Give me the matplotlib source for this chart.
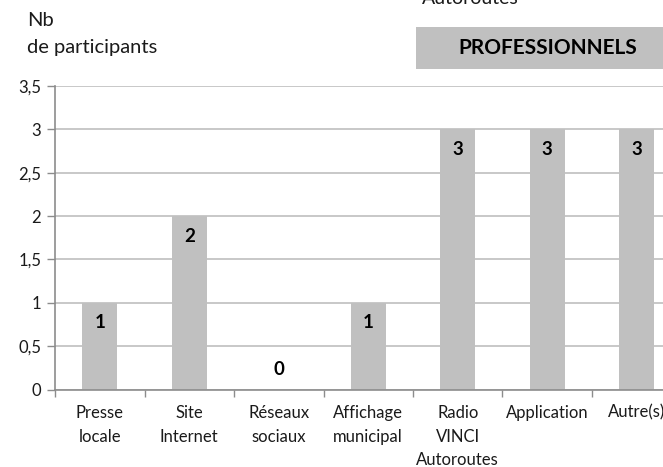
import matplotlib.pyplot as plt
from matplotlib.patches import Rectangle

# données du graphique
categories = ["Presse\nlocale", "Site\nInternet", "Réseaux\nsociaux", "Affichage\nmunicipal",
              "Radio\nVINCI\nAutoroutes", "Application", "Autre(s)"]
valeurs = [1, 2, 0, 1, 3, 3, 3]
yticks = [0, 0.5, 1, 1.5, 2, 2.5, 3, 3.5]
ytick_labels = ["0", "0,5", "1", "1,5", "2", "2,5", "3", "3,5"]

plt.rcParams["font.family"] = ["Lato", "DejaVu Sans"]

W, H = 663, 467
fig = plt.figure(figsize=(W / 100, H / 100), dpi=100)

# position de l'axe en pixels (l'axe déborde à droite, comme l'original recadré)
x0, y_bas, y_haut, pas = 55, 389.5, 86, 89.5
ax = fig.add_axes([x0 / W, (H - y_bas) / H, 7 * pas / W, (y_bas - y_haut) / H])

gris_barre = "#c0c0c0"
gris_axe = "#8c8c8c"
texte = "#1a1a1a"

x = list(range(len(categories)))
ax.bar(x, valeurs, width=0.39, color=gris_barre, zorder=2)

for xi, v in zip(x, valeurs):
    dy = 20 if v == 0 else -20
    ax.annotate(str(v), (xi, v), xytext=(0, dy * 0.72), textcoords="offset points",
                ha="center", va="center", fontsize=13.5, fontweight="bold", color="black", zorder=3)

ax.set_xlim(-0.5, len(categories) - 0.5)
ax.set_ylim(0, 3.5)
ax.set_yticks(yticks)
ax.set_yticklabels(ytick_labels, fontsize=12, color=texte)
ax.yaxis.grid(True, color="#bfbfbf", linewidth=1.2, zorder=0)
ax.set_axisbelow(True)

# graduations x aux limites des catégories, libellés au centre
ax.set_xticks([i - 0.5 for i in range(len(categories) + 1)])
ax.set_xticklabels([])
ax.set_xticks(x, minor=True)
ax.set_xticklabels(categories, minor=True, fontsize=12, color=texte, linespacing=1.6, va="top")
ax.tick_params(axis="x", which="minor", length=0, pad=11)
ax.tick_params(axis="x", which="major", length=5, color=gris_axe, width=1)
ax.tick_params(axis="y", length=6, color=gris_axe, width=1, pad=4)

for s in ["top", "right"]:
    ax.spines[s].set_visible(False)
for s in ["left", "bottom"]:
    ax.spines[s].set_color(gris_axe)
    ax.spines[s].set_linewidth(1.2)

# titre de l'axe y
fig.text(27 / W, 1 - 21 / H, "Nb", fontsize=14.5, color=texte, ha="left", va="center")
fig.text(27 / W, 1 - 48 / H, "de participants", fontsize=14.5, color=texte, ha="left", va="center")

# texte tronqué en haut
fig.text(422 / W, 1 - 4 / H, "Autoroutes", fontsize=14, color=texte, ha="left", va="baseline")

# cadre PROFESSIONNELS
fig.patches.append(Rectangle((416 / W, 1 - 69 / H), (W - 416) / W + 0.05, 42 / H,
                             transform=fig.transFigure, facecolor=gris_barre, edgecolor="none"))
fig.text(548 / W, 1 - 48 / H, "PROFESSIONNELS", fontsize=15, fontweight="bold",
         color="black", ha="center", va="center")

fig.savefig("out.png", dpi=100)
